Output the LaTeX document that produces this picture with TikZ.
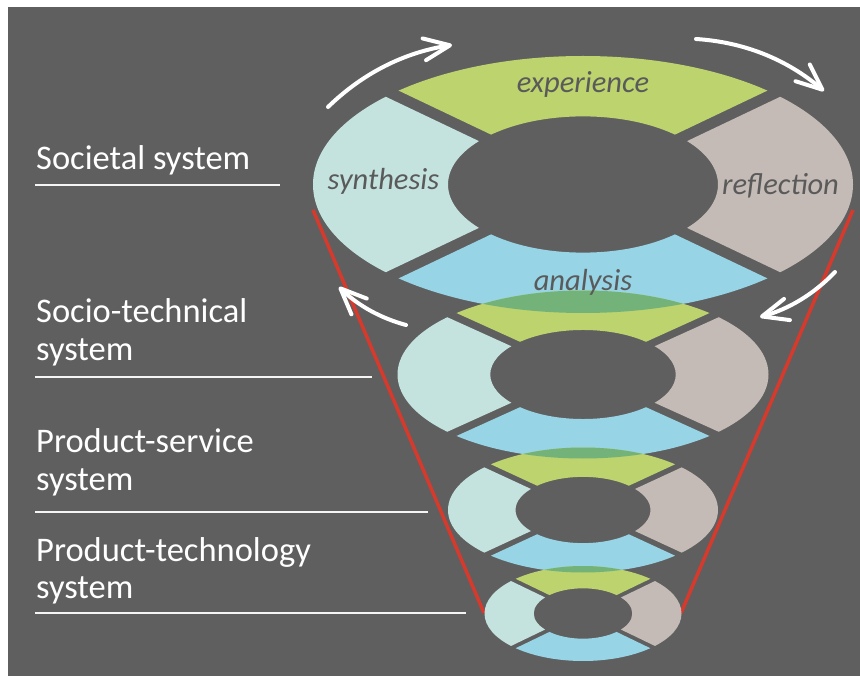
\documentclass[tikz,border=0pt]{standalone}
\usepackage{fontspec}
\setmainfont{Carlito}
\usetikzlibrary{arrows.meta}
\definecolor{bgc}{HTML}{5F5F5F}
\definecolor{cgreen}{HTML}{BDD36E}
\definecolor{cblue}{HTML}{96D4E6}
\definecolor{cteal}{HTML}{C4E2DE}
\definecolor{ctaupe}{HTML}{C4BBB6}
\definecolor{covl}{HTML}{73B37A}
\definecolor{redc}{HTML}{D63A2D}
\definecolor{labgray}{HTML}{5A5A5A}
\tikzset{
  lbl/.style={text=white, font=\fontsize{34.5}{38}\selectfont, anchor=base west, inner sep=0pt},
  ilbl/.style={text=labgray, font=\itshape\fontsize{30.5}{34}\selectfont, anchor=base, inner sep=0pt},
  uline/.style={draw=white!92!gray, line width=2pt},
  redl/.style={draw=redc, line width=3.5pt},
  cyc/.style={draw=white, line width=4pt, line cap=round, -{Straight Barb[length=26pt,width=22pt,round]}},
}
\newcommand\setring[3]{%
  \def\Zcy{#1}\def\ZR{#2}\def\ZRv{#3}%
  \pgfmathsetmacro\Zri{0.5*#2}%
  \pgfmathsetmacro\Zrv{0.53*#3}%
  \pgfmathsetmacro\Zgap{0.041*#2}%
  \pgfmathsetmacro\Zh{\Zgap/2*sqrt(1+(#3/#2)^2)}%
  \pgfmathsetmacro\Zw{\Zgap/2*sqrt(1+(#2/#3)^2)}%
}
\newcommand\annulus{(583,\Zcy) ellipse [x radius=\ZR pt, y radius=\ZRv pt] (583,\Zcy) ellipse [x radius=\Zri pt, y radius=\Zrv pt]}
\newcommand\topw{(583,\Zcy-\Zh) -- (583-2*\ZR,\Zcy-\Zh-2*\ZRv) -- (583+2*\ZR,\Zcy-\Zh-2*\ZRv) -- cycle}
\newcommand\botw{(583,\Zcy+\Zh) -- (583-2*\ZR,\Zcy+\Zh+2*\ZRv) -- (583+2*\ZR,\Zcy+\Zh+2*\ZRv) -- cycle}
\newcommand\rightw{(583+\Zw,\Zcy) -- (583+\Zw+2*\ZR,\Zcy-2*\ZRv) -- (583+\Zw+2*\ZR,\Zcy+2*\ZRv) -- cycle}
\newcommand\leftw{(583-\Zw,\Zcy) -- (583-\Zw-2*\ZR,\Zcy-2*\ZRv) -- (583-\Zw-2*\ZR,\Zcy+2*\ZRv) -- cycle}
\newcommand\drawring[3]{%
  \begin{scope}[even odd rule]
    \setring{#1}{#2}{#3}
    \clip \annulus;
    \fill[cgreen] \topw;
    \fill[ctaupe] \rightw;
    \fill[cblue] \botw;
    \fill[cteal] \leftw;
  \end{scope}}
\newcommand\overlapring[6]{%
  \begin{scope}[even odd rule]
    \setring{#1}{#2}{#3}
    \clip \annulus;
    \clip \botw;
    \setring{#4}{#5}{#6}
    \clip \annulus;
    \fill[covl] \topw;
  \end{scope}}
\begin{document}
\begin{tikzpicture}[x=1pt,y=-1pt]
  \useasboundingbox (0,0) rectangle (860,676);
  \fill[white] (0,0) rectangle (860,676);
  \fill[bgc] (8,7) rectangle (860,676);
  % red funnel lines
  \coordinate (rlt) at (313,210);
  \coordinate (rlb) at (484,613);
  \coordinate (rrt) at (853,210);
  \coordinate (rrb) at (681,613);
  \draw[redl] (rlt) -- (rlb);
  \draw[redl] (rrt) -- (rrb);
  % rings
  \drawring{184.5}{270}{128.5}
  \drawring{374.5}{185.5}{84}
  \drawring{510}{135}{62.5}
  \drawring{613.5}{98.5}{47.5}
  \overlapring{184.5}{270}{128.5}{374.5}{185.5}{84}
  \overlapring{374.5}{185.5}{84}{510}{135}{62.5}
  \overlapring{510}{135}{62.5}{613.5}{98.5}{47.5}
  % ring labels
  \node[ilbl] (exp) at (583,93) {experience};
  \node[ilbl] (syn) at (383.5,190) {synthesis};
  \node[ilbl] (ref) at (780.5,195) {reflection};
  \node[ilbl] (ana) at (583,291) {analysis};
  % level labels
  \node[lbl] (soc) at (36,170) {Societal system};
  \node[lbl] (st1) at (36,323) {Socio-technical};
  \node[lbl] (st2) at (36,361) {system};
  \node[lbl] (ps1) at (36,452) {Product-service};
  \node[lbl] (ps2) at (36,490) {system};
  \node[lbl] (pt1) at (36,561) {Product-technology};
  \node[lbl] (pt2) at (36,598) {system};
  \draw[uline] (35,185) -- (280,185);
  \draw[uline] (35,377) -- (372,377);
  \draw[uline] (35,512) -- (428,512);
  \draw[uline] (35,613) -- (466,613);
  % cycle arrows
  \coordinate (a1s) at (328,107);  \coordinate (a1e) at (452,45);
  \coordinate (a2s) at (696,39);   \coordinate (a2e) at (824,91);
  \coordinate (a3s) at (835,272);  \coordinate (a3e) at (760,317);
  \coordinate (a4s) at (406,325);  \coordinate (a4e) at (339,287);
  \draw[cyc] (a1s) .. controls (362.8,73.2) and (404.1,52.5) .. (a1e);
  \draw[cyc] (a2s) .. controls (744.4,42.1) and (787,59.5) .. (a2e);
  \draw[cyc] (a3s) .. controls (814.1,293.9) and (789.1,308.9) .. (a3e);
  \draw[cyc] (a4s) .. controls (380.4,318.1) and (358.1,305.5) .. (a4e);
\end{tikzpicture}
\end{document}
